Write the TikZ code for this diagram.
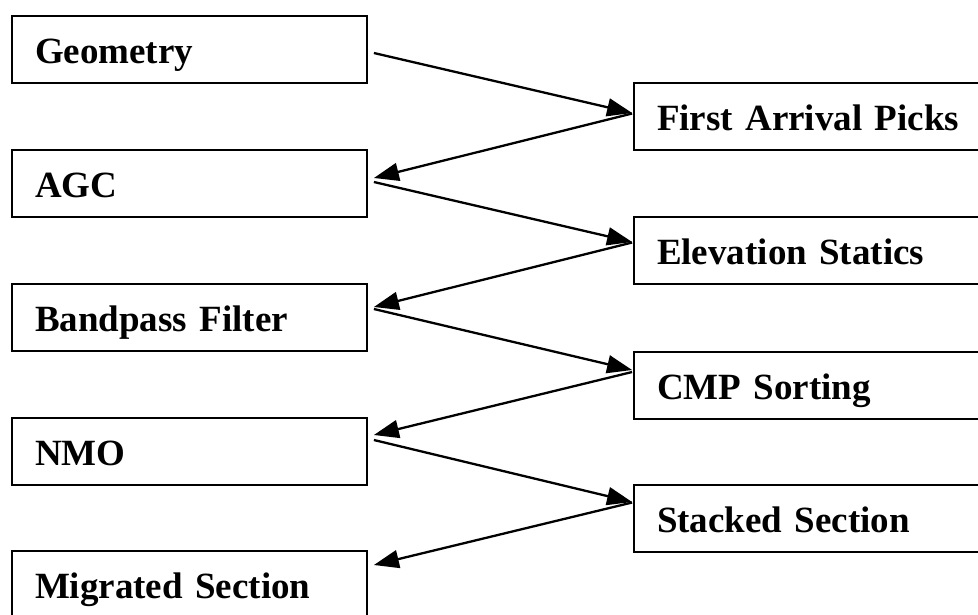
\documentclass[tikz,border=0pt]{standalone}
\usepackage{fontspec}
\setmainfont{Liberation Serif}
\usetikzlibrary{arrows.meta}
\begin{document}
\begin{tikzpicture}[x=1pt,y=-1pt,
  stepbox/.style={draw=black, line width=1.8pt, rectangle, inner xsep=23pt, inner ysep=0pt,
    minimum height=67pt, align=left, text height=28pt, text depth=1pt,
    font=\fontsize{37}{44}\selectfont\bfseries},
  leftbox/.style={stepbox, text width=309pt, minimum width=355pt},
  rightbox/.style={stepbox, text width=320pt, minimum width=366pt},
  flow/.style={line width=2.3pt, -{Triangle[length=25pt,width=18pt]}}]
\useasboundingbox (0,0) rectangle (978,614);
\clip (0,0) rectangle (978,614);
\fill[white] (0,0) rectangle (978,614);
\node[leftbox] (geom) at (189.5,49.5) {Geometry};
\node[leftbox] (agc) at (189.5,183.5) {AGC};
\node[leftbox] (band) at (189.5,317.5) {Bandpass Filter};
\node[leftbox] (nmo) at (189.5,451.5) {NMO};
\node[leftbox] (mig) at (189.5,584.5) {Migrated Section};
\node[rightbox] (first) at (817,116.5) {First Arrival Picks};
\node[rightbox] (elev) at (817,250.5) {Elevation Statics};
\node[rightbox] (cmp) at (817,385.5) {CMP Sorting};
\node[rightbox] (stack) at (817,518.5) {Stacked Section};
\draw[flow] ([xshift=6pt,yshift=-3.5pt]geom.east) -- ([xshift=-1pt,yshift=3.5pt]first.west);
\draw[flow] ([xshift=-1pt,yshift=3pt]first.west) -- ([xshift=6pt,yshift=5.5pt]agc.east);
\draw[flow] ([xshift=6pt,yshift=1.5pt]agc.east) -- ([xshift=-1pt,yshift=8.5pt]elev.west);
\draw[flow] ([xshift=-1pt,yshift=8pt]elev.west) -- ([xshift=6pt,yshift=10.5pt]band.east);
\draw[flow] ([xshift=6pt,yshift=8.5pt]band.east) -- ([xshift=-1pt,yshift=15.5pt]cmp.west);
\draw[flow] ([xshift=-1pt,yshift=13.5pt]cmp.west) -- ([xshift=6pt,yshift=16.5pt]nmo.east);
\draw[flow] ([xshift=6pt,yshift=11.5pt]nmo.east) -- ([xshift=-1pt,yshift=16.5pt]stack.west);
\draw[flow] ([xshift=-1pt,yshift=16pt]stack.west) -- ([xshift=6pt,yshift=19.5pt]mig.east);
\end{tikzpicture}
\end{document}
